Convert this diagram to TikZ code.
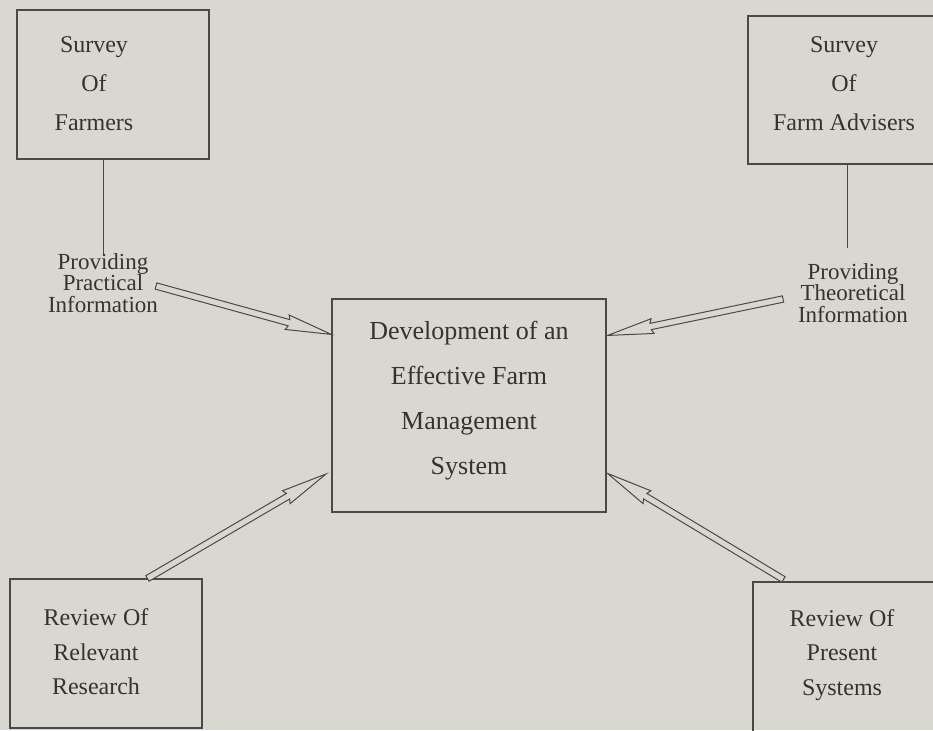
\documentclass[tikz,border=0pt]{standalone}
\usepackage{fontspec}
\setmainfont{Liberation Serif}
\usetikzlibrary{calc,fit}
\definecolor{paper}{HTML}{D8D7D0}
\definecolor{ink}{HTML}{34332F}
\definecolor{rule}{HTML}{4A4945}
\newcommand\hollowarrow[2]{%
  \draw[harrow]
    ($(#1)!3.2pt!90:(#2)$) --
    ($(#2)!44pt!(#1)!3.2pt!-90:(#1)$) --
    ($(#2)!46pt!(#1)!7.5pt!-90:(#1)$) --
    (#2) --
    ($(#2)!46pt!(#1)!7.5pt!90:(#1)$) --
    ($(#2)!44pt!(#1)!3.2pt!90:(#1)$) --
    ($(#1)!3.2pt!-90:(#2)$) -- cycle;}
\tikzset{
  boxframe/.style={draw=rule, line width=1.1pt, inner sep=0pt},
  boxtext/.style={text=ink, align=center, inner sep=0pt, font=\fontsize{24}{39}\selectfont},
  maintext/.style={text=ink, align=center, inner sep=0pt, font=\fontsize{26}{45}\selectfont},
  reviewtext/.style={text=ink, align=center, inner sep=0pt, font=\fontsize{24}{34.5}\selectfont},
  labeltext/.style={text=ink, align=center, inner sep=0pt, font=\fontsize{23}{21.5}\selectfont},
  link/.style={draw=rule, line width=1pt},
  harrow/.style={draw=rule, line width=1pt, fill=paper, line join=miter}
}
\begin{document}
\begin{tikzpicture}[x=1pt,y=-1pt]
\useasboundingbox (0,0) rectangle (933,730);
\fill[paper] (0,0) rectangle (933,730);
\clip (0,0) rectangle (933,730);

% boxes
\node[boxframe, fit={(17,10) (209,159)}] (sf) {};
\node[boxframe, fit={(748,16) (960,164)}] (sa) {};
\node[boxframe, fit={(332,299) (606,512)}] (main) {};
\node[boxframe, fit={(10,579) (202,728)}] (rr) {};
\node[boxframe, fit={(753,582) (960,760)}] (rp) {};

% box texts
\node[boxtext] (sft) at (94,84) {Survey\\Of\\Farmers};
\node[boxtext] (sat) at (844,84) {Survey\\Of\\Farm Advisers};
\node[maintext] (mt) at (469,401) {Development of an\\Effective Farm\\Management\\System};
\node[reviewtext] (rrt) at (96,652) {Review Of\\Relevant\\Research};
\node[reviewtext] (rpt) at (842,655) {Review Of\\Present\\Systems};

% labels
\node[labeltext] (pl) at (103,283) {Providing\\Practical\\Information};
\node[labeltext] (pt) at (853,293) {Providing\\Theoretical\\Information};

% vertical links
\coordinate (plTop) at ($(pl.north)+(0,1)$);
\coordinate (ptTop) at (847,248);
\draw[link] (sf.south -| plTop) -- (plTop);
\draw[link] (sa.south -| ptTop) -- (ptTop);

% arrow ends
\coordinate (a1s) at (156,286);
\coordinate (a1e) at ($(main.north west)+(0,36)$);
\coordinate (a2s) at (783,299);
\coordinate (a2e) at ($(main.north east)+(1,37)$);
\coordinate (a3s) at ($(rr.north west)+(138,0)$);
\coordinate (a3e) at (326,474);
\coordinate (a4s) at ($(rp.north west)+(31,-2)$);
\coordinate (a4e) at ($(main.north east)+(1,175)$);

\hollowarrow{a1s}{a1e}
\hollowarrow{a2s}{a2e}
\hollowarrow{a3s}{a3e}
\hollowarrow{a4s}{a4e}
\end{tikzpicture}
\end{document}
